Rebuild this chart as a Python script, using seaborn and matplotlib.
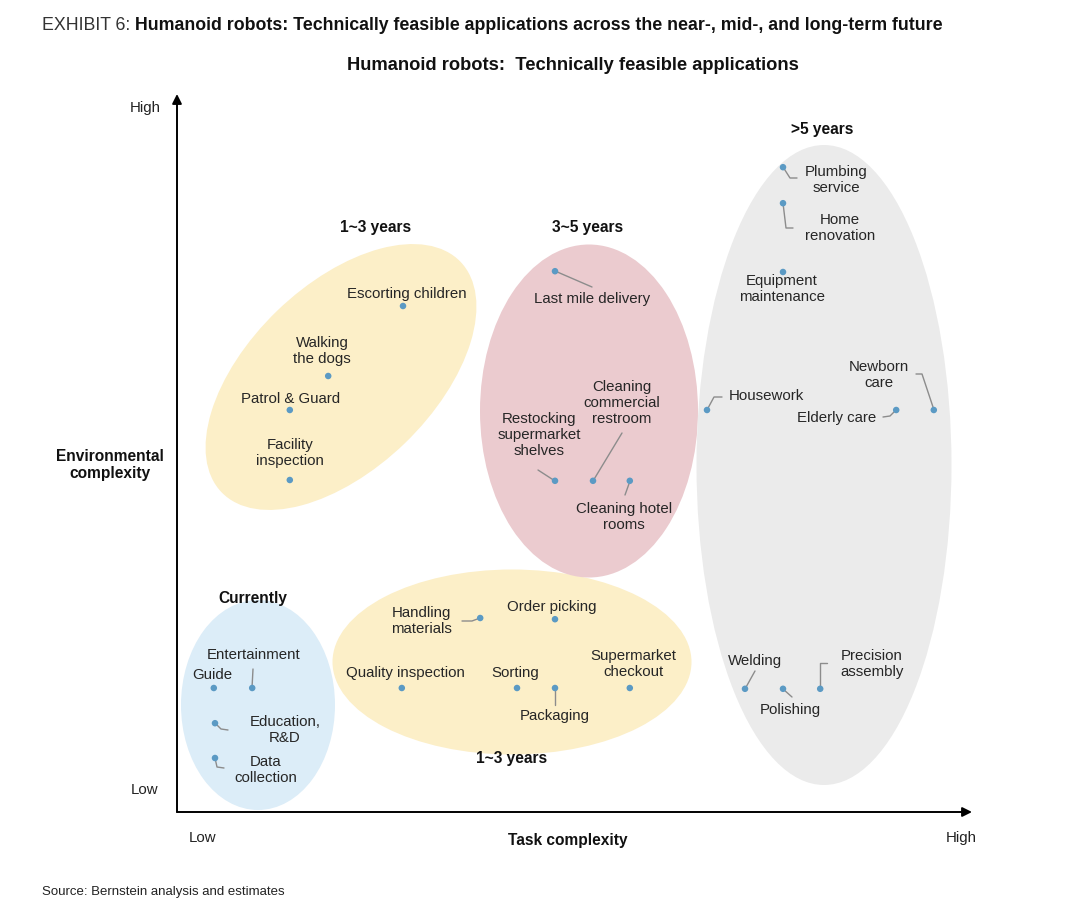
import matplotlib
matplotlib.use("Agg")
import matplotlib.pyplot as plt
from matplotlib.patches import Ellipse
from matplotlib import font_manager
import seaborn as sns
import pandas as pd

# ---- data: task complexity (x) vs environmental complexity (y), 0-100 / 0-90 scale ----
apps = ["Guide", "Entertainment", "Education, R&D", "Data collection",
        "Handling materials", "Order picking", "Quality inspection", "Sorting", "Packaging",
        "Supermarket checkout",
        "Escorting children", "Walking the dogs", "Patrol & Guard", "Facility inspection",
        "Last mile delivery", "Restocking supermarket shelves", "Cleaning commercial restroom",
        "Cleaning hotel rooms",
        "Plumbing service", "Home renovation", "Equipment maintenance", "Housework",
        "Elderly care", "Newborn care", "Welding", "Polishing", "Precision assembly"]
groups = ["Currently"] * 4 + ["1~3 years (low)"] * 6 + ["1~3 years (high)"] * 4 + \
         ["3~5 years"] * 4 + [">5 years"] * 9
task_cx = [4.6, 9.4, 4.75, 4.75,
           37.9, 47.25, 28.1, 42.5, 47.25, 56.6,
           28.25, 18.9, 14.1, 14.1,
           47.25, 47.25, 52.0, 56.6,
           75.75, 75.75, 75.75, 66.25, 89.9, 94.6, 71.0, 75.75, 80.4]
env_cx = [15.5, 15.5, 11.1, 6.75,
          24.25, 24.1, 15.5, 15.5, 15.5, 15.5,
          63.25, 54.5, 50.25, 41.5,
          67.6, 41.4, 41.4, 41.4,
          80.6, 76.1, 67.5, 50.25, 50.25, 50.25, 15.4, 15.4, 15.4]

df = pd.DataFrame({"app": apps, "group": groups, "task": task_cx, "env": env_cx})

# fonts
names = {f.name for f in font_manager.fontManager.ttflist}
cond = "Liberation Sans Narrow" if "Liberation Sans Narrow" in names else "Liberation Sans"
sns.set_style("white")
plt.rcParams["font.family"] = ["Liberation Sans", "DejaVu Sans"]

W, H = 1080, 909
fig = plt.figure(figsize=(W / 100, H / 100), dpi=100)
ax = fig.add_axes([177 / W, (H - 812) / H, 800 / W, 720 / H])
ax.set_xlim(0, 100)
ax.set_ylim(0, 90)
ax.axis("off")


def P(x, y):
    # pixel position in the picture -> axes data units
    return ((x - 177) / 8, (812 - y) / 8)


# bubbles
bubbles = [
    ((258, 705), 154, 210, 0, "#dcedf8"),
    ((512, 662), 359, 185, 0, "#fcefc8"),
    ((341, 377), 332, 184, 44, "#fcefc8"),
    ((589, 411), 218, 333, 0, "#ebcbcf"),
    ((824, 465), 255, 640, 0, "#ebebeb"),
]
for (cx, cy), w, h, ang, col in bubbles:
    ax.add_patch(Ellipse(P(cx, cy), w / 8, h / 8, angle=ang, facecolor=col,
                         edgecolor="none", zorder=1))

# leader lines (pixel polylines)
leaders = [
    [(252, 688), (253, 669)],
    [(215, 723), (221, 729), (228, 730)],
    [(215, 758), (217, 767), (224, 768)],
    [(480, 618), (472, 621), (462, 621)],
    [(555, 688), (555, 705)],
    [(555, 271), (592, 287)],
    [(555, 481), (538, 470)],
    [(593, 481), (622, 433)],
    [(630, 481), (625, 495)],
    [(783, 167), (790, 178), (797, 178)],
    [(783, 203), (786, 228), (793, 228)],
    [(707, 410), (714, 397), (722, 397)],
    [(934, 410), (922, 374), (916, 374)],
    [(896, 410), (890, 416), (883, 417)],
    [(745, 689), (755, 671)],
    [(783, 689), (792, 697)],
    [(820, 689), (820, 663), (827, 663)],
]
for pts in leaders:
    xs, ys = zip(*[P(*p) for p in pts])
    ax.plot(xs, ys, color="#8c8c8c", lw=1.0, zorder=2)

sns.scatterplot(data=df, x="task", y="env", ax=ax, color="#5b9ac4", s=22,
                edgecolor="none", legend=False, zorder=3, clip_on=False)

# labels
labels = [
    ("Guide", 212, 675),
    ("Entertainment", 254, 655),
    ("Education,\nR&D", 285, 730),
    ("Data\ncollection", 266, 770),
    ("Handling\nmaterials", 421, 621),
    ("Order picking", 552, 607),
    ("Quality inspection", 405, 673),
    ("Sorting", 515, 673),
    ("Packaging", 555, 716),
    ("Supermarket\ncheckout", 633, 664),
    ("Escorting children", 407, 294),
    ("Walking\nthe dogs", 322, 351),
    ("Patrol & Guard", 291, 399),
    ("Facility\ninspection", 290, 453),
    ("Last mile delivery", 592, 299),
    ("Restocking\nsupermarket\nshelves", 539, 435),
    ("Cleaning\ncommercial\nrestroom", 622, 403),
    ("Cleaning hotel\nrooms", 624, 517),
    ("Plumbing\nservice", 836, 180),
    ("Home\nrenovation", 840, 228),
    ("Equipment\nmaintenance", 782, 289),
    ("Housework", 766, 396),
    ("Newborn\ncare", 879, 375),
    ("Elderly care", 837, 418),
    ("Welding", 755, 661),
    ("Polishing", 790, 710),
    ("Precision\nassembly", 872, 664),
]
for txt, x, y in labels:
    ax.text(*P(x, y), txt, ha="center", va="center", fontsize=10.8, color="#262626",
            linespacing=1.2, zorder=4)

heads = [("Currently", 253, 599), ("1~3 years", 512, 759), ("1~3 years", 376, 228),
         ("3~5 years", 588, 228), (">5 years", 822, 130)]
for txt, x, y in heads:
    ax.text(*P(x, y), txt, ha="center", va="center", fontsize=11.2,
            fontweight="bold", color="#111111", zorder=4)

# axes arrows
arrow = dict(arrowstyle="-|>", lw=1.4, color="black", mutation_scale=14,
             shrinkA=0, shrinkB=0)
ax.annotate("", xy=P(177, 94), xytext=P(177, 812), arrowprops=arrow, annotation_clip=False)
ax.annotate("", xy=P(972, 812), xytext=P(177, 812), arrowprops=arrow, annotation_clip=False)

ax.text(*P(145, 108), "High", ha="center", va="center", fontsize=10.8, color="#222222")
ax.text(*P(145, 790), "Low", ha="center", va="center", fontsize=10.8, color="#222222")
ax.text(*P(203, 838), "Low", ha="center", va="center", fontsize=10.8, color="#222222")
ax.text(*P(961, 838), "High", ha="center", va="center", fontsize=10.8, color="#222222")
ax.text(*P(110, 465), "Environmental\ncomplexity", ha="center", va="center",
        fontsize=11.2, fontweight="bold", color="#111111", linespacing=1.2)
ax.text(*P(568, 840), "Task complexity", ha="center", va="center",
        fontsize=11.2, fontweight="bold", color="#111111")

fig.text(573 / W, 1 - 66 / H, "Humanoid robots:  Technically feasible applications",
         ha="center", va="center", fontsize=13.2, fontweight="bold", color="#111111")

# exhibit title in two weights
t1 = fig.text(42 / W, 1 - 25 / H, "EXHIBIT 6: ", ha="left", va="center",
              fontsize=12.8, family=cond, color="#333333")
fig.canvas.draw()
bb = t1.get_window_extent()
fig.text(bb.x1 / W, 1 - 25 / H,
         "Humanoid robots: Technically feasible applications across the near-, mid-, and long-term future",
         ha="left", va="center", fontsize=12.8, family=cond, fontweight="bold", color="#111111")

fig.text(42 / W, 1 - 892 / H, "Source: Bernstein analysis and estimates", ha="left",
         va="center", fontsize=9.5, family=cond, color="#222222")

fig.savefig("out.png", dpi=100, facecolor="white")
